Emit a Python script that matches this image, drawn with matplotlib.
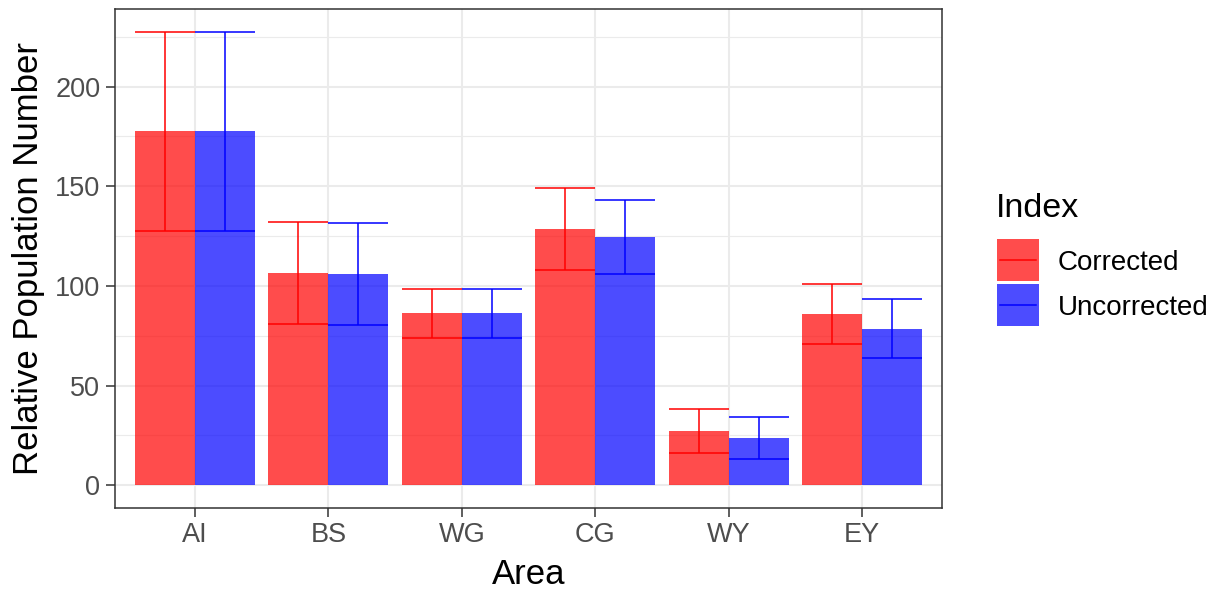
#!/usr/bin/env python3
"""Grouped bar chart with error bars: corrected vs uncorrected relative population number"""
import numpy as np
import matplotlib
matplotlib.use('Agg')
import matplotlib.pyplot as plt
from matplotlib.patches import Rectangle
from matplotlib.lines import Line2D

plt.rcParams['font.family'] = ['Liberation Sans', 'DejaVu Sans']

# ── data ──
areas = ['AI', 'BS', 'WG', 'CG', 'WY', 'EY']
series = ['Corrected', 'Uncorrected']
corr_mean = [177.5, 106.5, 86.2, 128.7, 27.1, 85.7]
corr_low = [127.5, 80.9, 74.0, 108.1, 16.2, 70.8]
corr_high = [227.5, 132.3, 98.4, 149.2, 38.4, 101.1]
unc_mean = [177.5, 105.8, 86.2, 124.7, 23.6, 78.5]
unc_low = [127.5, 80.4, 74.0, 105.9, 13.0, 63.7]
unc_high = [227.5, 131.7, 98.4, 143.2, 34.4, 93.6]

colors = ['#FF0000', '#0000FF']
alpha = 0.7

W, H = 1219, 593
fig = plt.figure(figsize=(W / 100, H / 100), dpi=100)

def px(x, y):
    return x / W, 1 - y / H

# panel in pixel coords
L, T, R, B = 115, 9, 942, 508
ax = fig.add_axes([L / W, 1 - B / H, (R - L) / W, (B - T) / H])

x = np.arange(1, len(areas) + 1)
bw = 0.45
groups = [(corr_mean, corr_low, corr_high), (unc_mean, unc_low, unc_high)]
for k, (m, lo, hi) in enumerate(groups):
    xs = x + (k - 0.5) * bw
    ax.bar(xs, m, width=bw, color=colors[k], alpha=alpha, linewidth=0, zorder=3)
    ax.vlines(xs, lo, hi, color=colors[k], linewidth=1.1, zorder=4)
    ax.hlines(lo, xs - bw / 2, xs + bw / 2, color=colors[k], linewidth=1.1, zorder=4)
    ax.hlines(hi, xs - bw / 2, xs + bw / 2, color=colors[k], linewidth=1.1, zorder=4)

ymax = max(max(corr_high), max(unc_high))
ax.set_ylim(-0.05 * ymax, ymax * 1.05)
ax.set_xlim(0.4, len(areas) + 0.6)

ax.set_xticks(x)
ax.set_xticklabels(areas)
ax.set_yticks([0, 50, 100, 150, 200])
ax.set_yticks([25, 75, 125, 175, 225], minor=True)
ax.grid(True, which='major', color='#EBEBEB', linewidth=1.5, zorder=0)
ax.grid(True, which='minor', axis='y', color='#EBEBEB', linewidth=0.8, zorder=0)
ax.set_axisbelow(True)
ax.tick_params(axis='both', which='major', length=6.5, width=1.1, color='#333333',
               labelsize=19.5, labelcolor='#4D4D4D', pad=4)
ax.tick_params(axis='x', which='major', pad=3.5)
ax.tick_params(axis='both', which='minor', length=0)
for s in ax.spines.values():
    s.set_color('#333333')
    s.set_linewidth(1.1)

ax.set_xlabel('Area', fontsize=25, labelpad=7)
ax.set_ylabel('Relative Population Number', fontsize=25, labelpad=7)

# ── legend (drawn by hand, ggplot style) ──
fig.text(*px(996, 217), 'Index', fontsize=24.5, ha='left', va='baseline')
key_tops = [239, 284]
for k, name in enumerate(series):
    x0, y0 = px(997, key_tops[k] + 42)
    fig.patches.append(Rectangle((x0, y0), 42 / W, 42 / H, transform=fig.transFigure,
                                 facecolor=colors[k], alpha=alpha, edgecolor='none'))
    yc = key_tops[k] + 21
    fig.lines.append(Line2D([1000 / W, 1036 / W], [1 - yc / H] * 2, transform=fig.transFigure,
                            color=colors[k], linewidth=1.1))
    fig.text(*px(1058, yc), name, fontsize=20, ha='left', va='center_baseline')

fig.savefig('out.png', dpi=100, facecolor='white')
